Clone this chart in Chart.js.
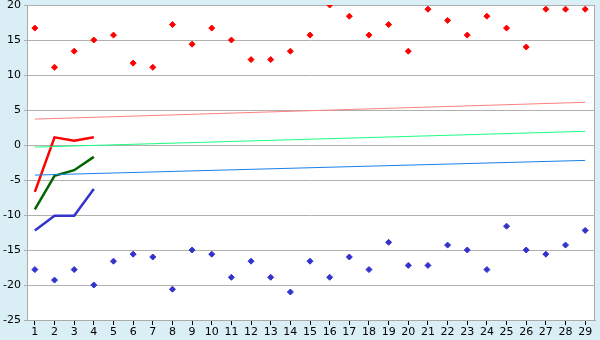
<!DOCTYPE html>
<html>
<head>
  <meta charset="UTF-8" />
  <title>Chart</title>
  <script src="https://cdn.jsdelivr.net/npm/chart.js"></script>
  <style>
    body { margin: 0; background: #daeef5; }
    #wrap { width: 600px; height: 340px; }
  </style>
</head>
<body>
  <div id="wrap"><canvas id="chart" width="600" height="340"></canvas></div>

  <script>
    // x categories
    const categories = [1,2,3,4,5,6,7,8,9,10,11,12,13,14,15,16,17,18,19,20,21,22,23,24,25,26,27,28,29];

    // scatter series
    const redPoints = [16.7,11.1,13.4,15.0,15.7,11.7,11.1,17.2,14.4,16.7,15.0,12.2,12.2,13.4,15.7,20.0,18.4,15.7,17.2,13.4,19.4,17.8,15.7,18.4,16.7,14.0,19.4,19.4,19.4];
    const bluePoints = [-17.8,-19.3,-17.8,-20.0,-16.6,-15.6,-16.0,-20.6,-15.0,-15.6,-18.9,-16.6,-18.9,-21.0,-16.6,-18.9,-16.0,-17.8,-13.9,-17.2,-17.2,-14.3,-15.0,-17.8,-11.6,-15.0,-15.6,-14.3,-12.2];

    // thick lines over the first four categories
    const redLine = [-6.7, 1.1, 0.6, 1.1];
    const greenLine = [-9.2, -4.4, -3.6, -1.7];
    const blueLine = [-12.2, -10.1, -10.1, -6.3];

    // trend lines: value at first and last category
    const pinkTrend = [3.7, 6.1];
    const lightGreenTrend = [-0.3, 1.95];
    const skyTrend = [-4.3, -2.2];

    const yTicks = [-25, -20, -15, -10, -5, 0, 5, 10, 15, 20];

    const pts = (vals) => vals.map((v, i) => ({ x: categories[i], y: v }));
    const trend = (ends) => [
      { x: categories[0], y: ends[0] },
      { x: categories[categories.length - 1], y: ends[1] }
    ];

    const plotBg = {
      id: 'plotBg',
      beforeDraw(chart) {
        const { ctx, chartArea: a } = chart;
        ctx.save();
        ctx.fillStyle = '#ffffff';
        ctx.fillRect(a.left, a.top, a.right - a.left, a.bottom - a.top);
        ctx.strokeStyle = '#aaaaaa';
        ctx.lineWidth = 1;
        ctx.beginPath();
        ctx.moveTo(a.left, a.top + 0.5);
        ctx.lineTo(a.right - 0.5, a.top + 0.5);
        ctx.lineTo(a.right - 0.5, a.bottom);
        ctx.stroke();
        ctx.restore();
      }
    };

    Chart.defaults.font.family = '"DejaVu Sans", Verdana, sans-serif';
    Chart.defaults.font.size = 11;
    Chart.defaults.color = '#000000';

    const lineDs = (data, color, width) => ({
      type: 'line', data, borderColor: color, borderWidth: width,
      pointRadius: 0, fill: false, tension: 0
    });
    const dotDs = (data, color) => ({
      type: 'scatter', data, backgroundColor: color, borderColor: color,
      pointStyle: 'rectRot', pointRadius: 3, borderWidth: 1
    });

    new Chart(document.getElementById('chart'), {
      type: 'scatter',
      data: {
        datasets: [
          lineDs(trend(pinkTrend), '#ff8080', 1),
          lineDs(trend(lightGreenTrend), '#19ff80', 1),
          lineDs(trend(skyTrend), '#1a80ee', 1),
          lineDs(pts(redLine), '#ff0000', 2.5),
          lineDs(pts(greenLine), '#006600', 2.5),
          lineDs(pts(blueLine), '#3333cc', 2.5),
          dotDs(pts(redPoints), '#ff0000'),
          dotDs(pts(bluePoints), '#3333cc')
        ]
      },
      options: {
        responsive: false,
        animation: false,
        layout: { padding: { left: 0, top: 5, right: 5, bottom: 0 } },
        plugins: { legend: { display: false }, tooltip: { enabled: false } },
        scales: {
          x: {
            type: 'linear',
            min: 0.6,
            max: 29.5,
            afterBuildTicks: (axis) => { axis.ticks = categories.map(v => ({ value: v })); },
            afterFit: (axis) => { axis.height = 20; },
            grid: { drawOnChartArea: false, tickLength: 5, color: '#000000' },
            border: { color: '#aaaaaa' },
            ticks: { padding: 1, maxRotation: 0, autoSkip: false }
          },
          y: {
            min: -25,
            max: 20,
            afterBuildTicks: (axis) => { axis.ticks = yTicks.map(v => ({ value: v })); },
            afterFit: (axis) => { axis.width = 27; axis.paddingTop = 0; axis.paddingBottom = 0; },
            grid: { color: '#b0b0b0', tickLength: 3 },
            border: { color: '#aaaaaa' },
            ticks: { padding: 3 }
          }
        }
      },
      plugins: [plotBg]
    });
  </script>
</body>
</html>
